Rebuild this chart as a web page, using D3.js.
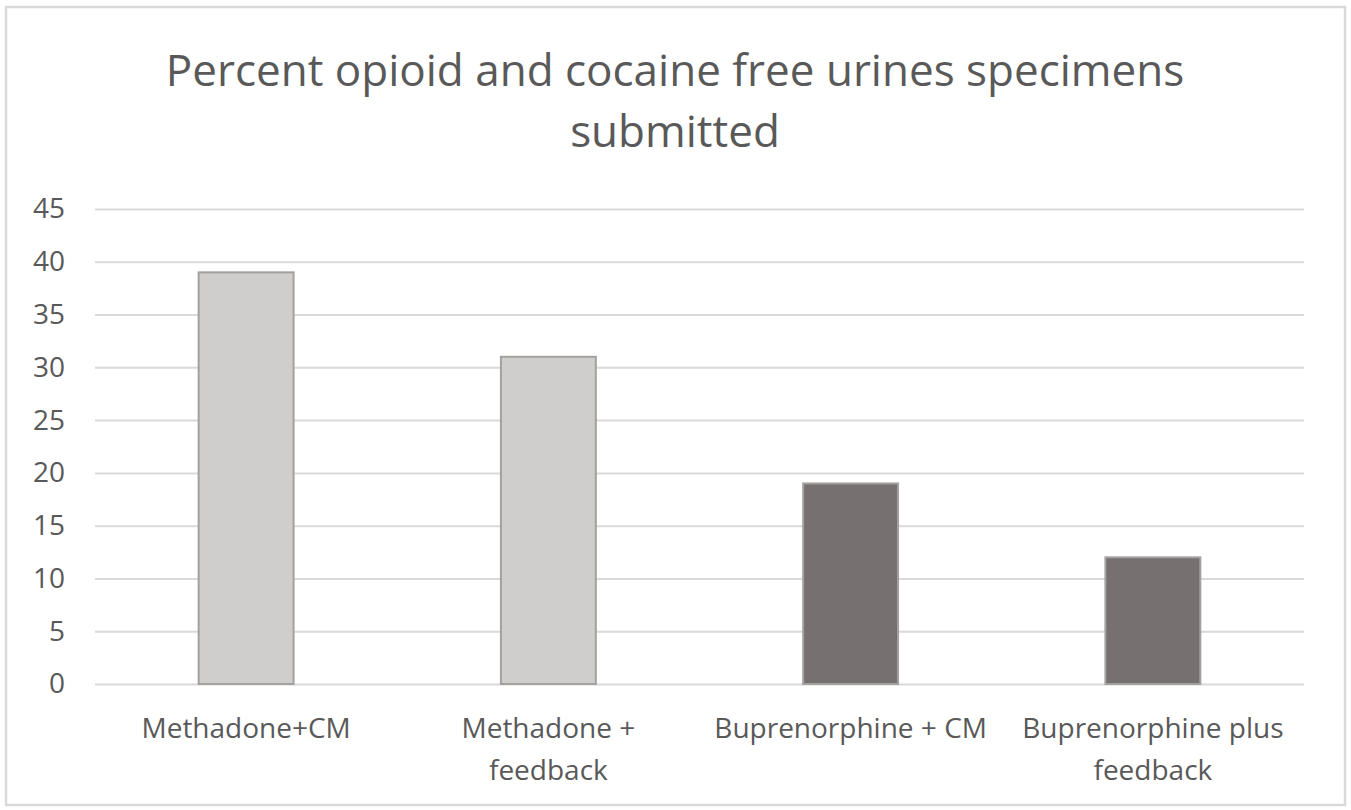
<!DOCTYPE html>
<html>
<head>
<meta charset="utf-8">
<script src="https://cdn.jsdelivr.net/npm/d3@7"></script>
<style>
  body { margin: 0; background: #fff; }
  text { font-family: "Open Sans", "Noto Sans", sans-serif; fill: #595959; }
</style>
</head>
<body>
<svg id="chart" width="1351" height="810"></svg>
<script>
var categories = ["Methadone+CM", "Methadone + feedback", "Buprenorphine + CM", "Buprenorphine plus feedback"];
var labelLines = [["Methadone+CM"], ["Methadone +", "feedback"], ["Buprenorphine + CM"], ["Buprenorphine plus", "feedback"]];
var values = [39, 31, 19, 12];
var barColors = ["#d0cdcd", "#d0cdcd", "#767170", "#767170"];
var yTicks = [0, 5, 10, 15, 20, 25, 30, 35, 40, 45];
var titleLines = ["Percent opioid and cocaine free urines specimens", "submitted"];

var svg = d3.select("#chart");
var margin = {top: 209, right: 47, bottom: 126, left: 95};
var width = 1351 - margin.left - margin.right;
var height = 810 - margin.top - margin.bottom;

// outer frame
svg.append("rect")
    .attr("x", 6).attr("y", 7)
    .attr("width", 1339).attr("height", 798)
    .attr("fill", "#fff")
    .attr("stroke", "#d9d9d9")
    .attr("stroke-width", 2.5);

svg.selectAll(".title")
    .data(titleLines)
  .enter().append("text")
    .attr("class", "title")
    .attr("x", 675)
    .attr("y", function(d, i) { return 86 + i * 61; })
    .attr("text-anchor", "middle")
    .style("font-size", "44px")
    .text(function(d) { return d; });

var x = d3.scaleBand().domain(categories).range([0, width]).padding(0);
var y = d3.scaleLinear().domain([0, 45]).range([height, 0]);

var g = svg.append("g")
    .attr("transform", "translate(" + margin.left + "," + margin.top + ")");

g.append("g")
    .attr("class", "grid")
    .call(d3.axisLeft(y).tickValues(yTicks).tickSize(-width).tickFormat(""))
    .call(function(a) {
      a.select(".domain").remove();
      a.selectAll("line").attr("stroke", "#d9d9d9").attr("stroke-width", 2);
    });

g.append("g")
    .attr("class", "y axis")
    .call(d3.axisLeft(y).tickValues(yTicks).tickSize(0).tickPadding(30))
    .call(function(a) {
      a.select(".domain").remove();
      a.selectAll("text").style("font-size", "28px").attr("fill", "#595959").attr("font-family", null);
    });

var barW = x.bandwidth() * 0.314;
g.selectAll(".bar")
    .data(values)
  .enter().append("rect")
    .attr("class", "bar")
    .attr("x", function(d, i) { return x(categories[i]) + (x.bandwidth() - barW) / 2; })
    .attr("y", function(d) { return y(d); })
    .attr("width", barW)
    .attr("height", function(d) { return height - y(d); })
    .attr("fill", function(d, i) { return barColors[i]; })
    .attr("stroke", "#a3a0a0")
    .attr("stroke-width", 2);

var xl = g.selectAll(".xlabel")
    .data(categories)
  .enter().append("text")
    .attr("class", "xlabel")
    .attr("text-anchor", "middle")
    .attr("transform", function(d) { return "translate(" + (x(d) + x.bandwidth() / 2) + "," + (height + 54) + ")"; })
    .style("font-size", "28px");

xl.selectAll("tspan")
    .data(function(d, i) { return labelLines[i]; })
  .enter().append("tspan")
    .attr("x", 0)
    .attr("dy", function(d, i) { return i === 0 ? 0 : 42; })
    .text(function(d) { return d; });
</script>
</body>
</html>
